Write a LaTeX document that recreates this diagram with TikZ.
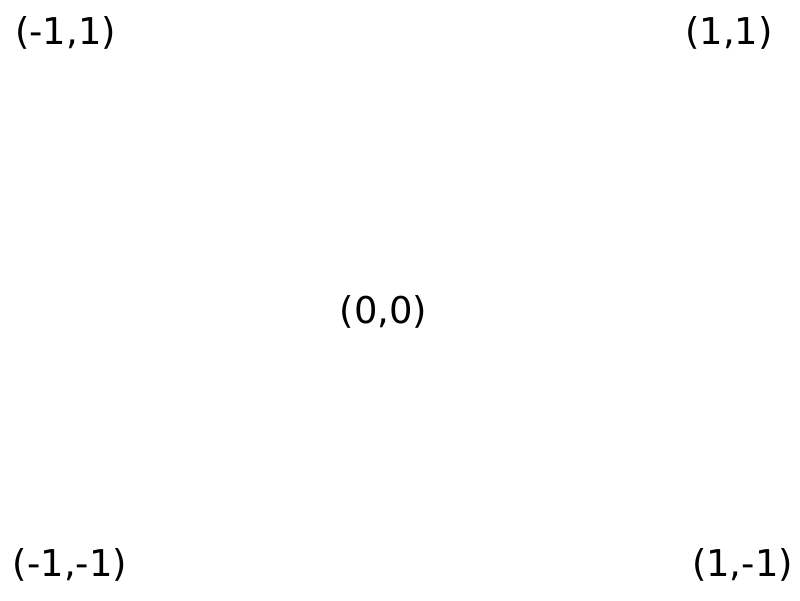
\documentclass[tikz,border=0pt]{standalone}
\usepackage{fontspec}
\setmainfont{DejaVu Sans}
\begin{document}
\begin{tikzpicture}[lbl/.style={font=\fontsize{21}{25}\selectfont, inner sep=0pt}]
\useasboundingbox (0,0) rectangle (16,12);
\node[lbl] (a) at (1.31,11.34) {(-1,1)};
\node[lbl] (b) at (14.58,11.34) {(1,1)};
\node[lbl] (c) at (7.67,5.76) {(0,0)};
\node[lbl] (d) at (1.40,0.70) {(-1,-1)};
\node[lbl] (e) at (14.85,0.70) {(1,-1)};
\end{tikzpicture}
\end{document}
